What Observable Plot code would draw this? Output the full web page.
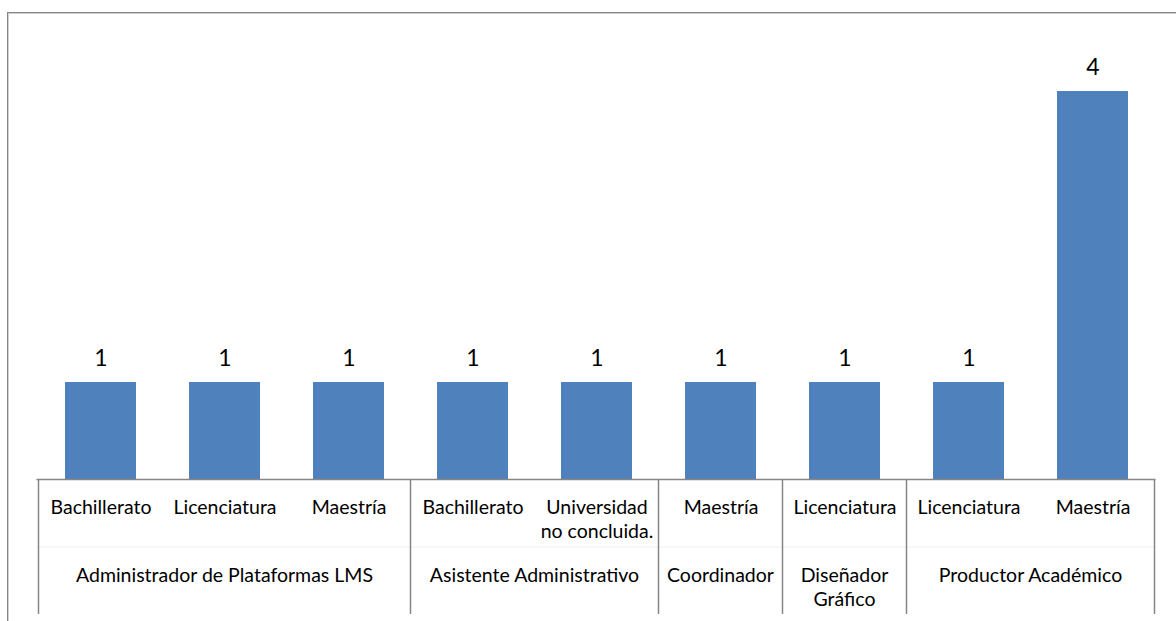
<!DOCTYPE html>
<html>
<head>
<meta charset="utf-8">
<script src="https://cdn.jsdelivr.net/npm/d3@7"></script>
<script src="https://cdn.jsdelivr.net/npm/@observablehq/plot@0.6"></script>
<style>
  html, body { margin: 0; padding: 0; background: #fff; }
  #wrap { position: relative; width: 1176px; height: 621px; overflow: hidden; }
  #border { position: absolute; left: 7px; top: 12px; width: 1200px; height: 700px;
            border-left: 1px solid #858585; border-top: 1px solid #858585;
            box-shadow: inset 1px 1px 0 #d0d0d0; }
  #chart { position: absolute; left: 0; top: 0; }
</style>
</head>
<body>
<div id="wrap"><div id="border"></div><div id="chart"></div></div>
<script>
// Data
const roles = [
  "Administrador de Plataformas LMS", "Administrador de Plataformas LMS", "Administrador de Plataformas LMS",
  "Asistente Administrativo", "Asistente Administrativo",
  "Coordinador",
  "Diseñador\nGráfico",
  "Productor Académico", "Productor Académico"
];
const levels = [
  "Bachillerato", "Licenciatura", "Maestría",
  "Bachillerato", "Universidad\nno concluida.",
  "Maestría",
  "Licenciatura",
  "Licenciatura", "Maestría"
];
const counts = [1, 1, 1, 1, 1, 1, 1, 1, 4];

const rows = counts.map((v, i) => ({id: String(i), role: roles[i], level: levels[i], value: v}));
const ids = rows.map(d => d.id);

const FONT = "Lato, Carlito, Calibri, sans-serif";
const AXIS = "#868686";
const LABEL_SIZE = 19.5;

const plot = Plot.plot({
  width: 1176,
  height: 621,
  marginLeft: 36.5,
  marginRight: 20.5,
  marginTop: 91,
  marginBottom: 142,
  style: {fontFamily: FONT, overflow: "visible", background: "transparent"},
  x: {domain: ids, paddingInner: 0.43, paddingOuter: 0.215, axis: null},
  y: {domain: [0, 4], axis: null},
  marks: [
    Plot.barY(rows, {x: "id", y: "value", fill: "#4F81BD"}),
    Plot.ruleY([0], {stroke: AXIS, strokeWidth: 1.5}),
    Plot.text(rows, {x: "id", y: "value", text: d => String(d.value), lineAnchor: "bottom",
                     dy: -17, fontSize: 23, fill: "#000"}),
    Plot.text(rows, {x: "id", text: "level", frameAnchor: "bottom", lineAnchor: "top",
                     dy: 18, fontSize: LABEL_SIZE, lineHeight: 1.2, fill: "#000"})
  ]
});
document.getElementById("chart").appendChild(plot);

// Group labels and separators drawn through the plot's own x scale
const xs = plot.scale("x");
const gap = (xs.step - xs.bandwidth) / 2;
const y0 = 621 - 142;
const svg = d3.select(plot);
const groups = [];
rows.forEach((d, i) => {
  if (i === 0 || rows[i - 1].role !== d.role) groups.push({role: d.role, first: d.id, last: d.id});
  else groups[groups.length - 1].last = d.id;
});
const g = svg.append("g");
// faint row divider
g.append("line").attr("x1", xs.range[0]).attr("x2", xs.range[1])
  .attr("y1", y0 + 68).attr("y2", y0 + 68).attr("stroke", "#efefef").attr("stroke-width", 1);
groups.forEach((gr, k) => {
  const left = xs.apply(gr.first) - gap;
  const right = xs.apply(gr.last) + xs.bandwidth + gap;
  g.append("line").attr("x1", left).attr("x2", left).attr("y1", y0).attr("y2", y0 + 135)
    .attr("stroke", AXIS).attr("stroke-width", 1.5);
  if (k === groups.length - 1) {
    g.append("line").attr("x1", right).attr("x2", right).attr("y1", y0).attr("y2", y0 + 135)
      .attr("stroke", AXIS).attr("stroke-width", 1.5);
  }
  const t = g.append("text").attr("text-anchor", "middle").attr("font-family", FONT)
    .attr("font-size", LABEL_SIZE).attr("fill", "#000");
  gr.role.split("\n").forEach((line, j) => {
    t.append("tspan").attr("x", (left + right) / 2).attr("y", y0 + 103 + j * 24).text(line);
  });
});
</script>
</body>
</html>
